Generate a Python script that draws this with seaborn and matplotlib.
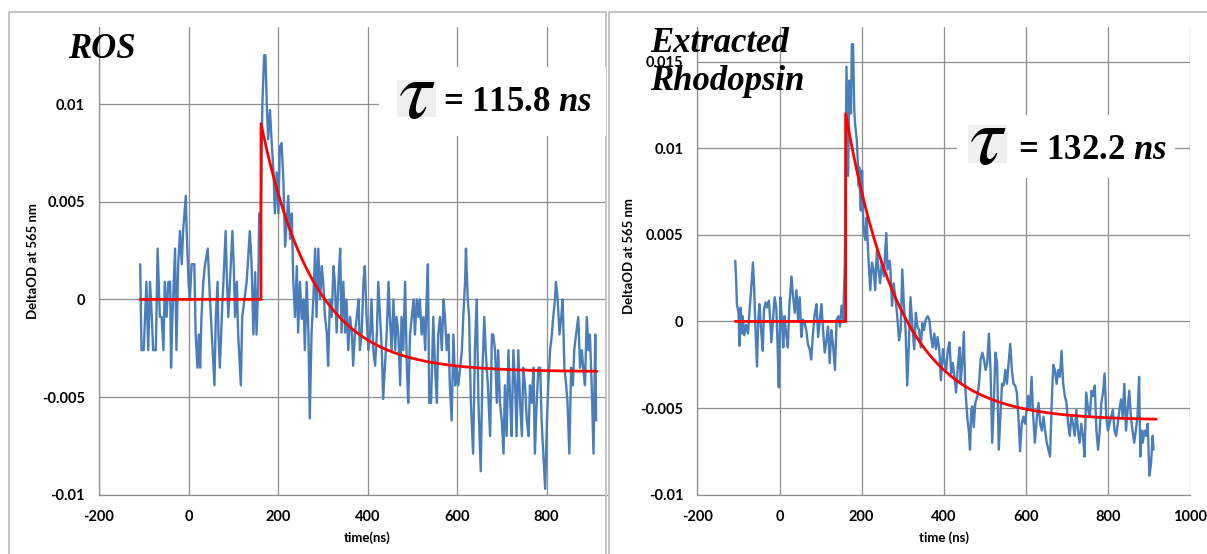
import numpy as np
import pandas as pd
import matplotlib
matplotlib.use("Agg")
import matplotlib.pyplot as plt
from matplotlib.lines import Line2D
from matplotlib.patches import Rectangle
import seaborn as sns

# ---------------- ROS transient (time in ns, DeltaOD at 565 nm) ----------------
ros_time = [
    -108, -105, -100, -94, -90, -86, -82, -79, -73, -69, -64, -60, -56, -53, -49, -45,
    -41, -39, -36, -30, -27, -23, -19, -15, -12, -6, -4, 0, 3, 7, 13, 16, 20, 23, 26,
    29, 33, 37, 43, 48, 52, 58, 61, 65, 67, 70, 76, 78, 83, 86, 89, 98, 101, 104, 108,
    111, 117, 120, 125, 130, 137, 141, 145, 149, 152, 156, 158, 161,
    165, 169, 172, 175, 178, 182, 186, 190, 193, 197, 201, 204, 208, 212, 216, 219, 223,
    227, 231, 234, 238, 242, 245, 249, 253, 257, 260, 264, 268, 271, 275, 279, 283, 286,
    290, 294, 298, 301, 305, 309, 312, 316, 320, 324, 327, 331, 335, 339, 342, 346, 350,
    353, 357, 361, 365, 368, 372, 376, 380, 383, 387, 391, 394, 398, 402, 406, 409, 413,
    417, 421, 424, 428, 432, 435, 439, 443, 447, 450, 454, 458, 462, 465, 469, 473, 476,
    480, 484, 488, 491, 495, 499, 503, 506, 510, 514, 517, 521, 525, 529, 532, 535, 538,
    542, 547, 551, 555, 558, 562, 566, 570, 573, 577, 581, 584, 588, 592, 596, 599, 603,
    607, 611, 614, 618, 620, 624, 627, 631, 636, 640, 644, 648, 653, 657, 661, 664, 669,
    674, 678, 681, 685, 689, 692, 696, 700, 704, 707, 711, 715, 719, 722, 726, 730, 733,
    737, 741, 745, 748, 752, 756, 760, 763, 767, 771, 774, 778, 782, 786, 789, 793, 797,
    801, 804, 808, 812, 815, 819, 821, 825, 829, 833, 836, 840, 844, 847, 851, 855, 859,
    862, 866, 871, 875, 879, 882, 886, 890, 894, 897, 901, 905, 909, 911,
]
ros_od = [
    0.0018, -0.0026, -0.0026, 0.0009, -0.0026, 0.0009, -0.0009, -0.0026, -0.0026, 0.0026,
    -0.0009, -0.0009, -0.0026, 0.0009, -0.0009, 0.0009, 0.0009, -0.0035, -0.0009, 0.0026,
    -0.0026, 0.0018, 0.0035, 0.0018, 0.0035, 0.0053, 0.0035, 0.0009, 0.0, 0.0018, 0.0018,
    -0.0018, -0.0035, -0.0018, -0.0035, -0.0009, 0.0009, 0.0018, 0.0026, 0.0, -0.0018,
    -0.0044, -0.0009, 0.0009, -0.0018, -0.0035, 0.0, 0.0009, 0.0035, 0.0009, -0.0009,
    0.0035, 0.0018, -0.0009, 0.0009, -0.0018, -0.0044, -0.0009, 0.0, 0.0009, 0.0035,
    0.0018, -0.0018, 0.0014, -0.0018, 0.0009, 0.0044, 0.0035,
    0.0099, 0.0125, 0.0125, 0.0099, 0.0082, 0.0097, 0.0080, 0.0065, 0.0044, 0.0065,
    0.0044, 0.0078, 0.0080, 0.0061, 0.0027, 0.0038, 0.0053, 0.0031, 0.0044, 0.0010,
    -0.0009, 0.0017, -0.0017, 0.0009, -0.0010, 0.0, -0.0026, 0.0009, -0.0017, -0.0061,
    -0.0017, 0.0, 0.0026, -0.0009, 0.0026, 0.0, 0.0017, 0.0009, -0.0009, -0.0017,
    -0.0034, 0.0, -0.0009, 0.0017, 0.0009, -0.0017, 0.0009, 0.0026, -0.0017, 0.0009,
    -0.0017, 0.0, -0.0026, -0.0009, -0.0017, -0.0034, -0.0017, -0.0009, 0.0, -0.0026,
    -0.0017, 0.0009, 0.0017, -0.0009, -0.0026, -0.0017, 0.0, -0.0026, -0.0034, -0.0017,
    0.0009, -0.0009, -0.0026, -0.0051, -0.0034, -0.0017, 0.0009, -0.0009, -0.0026, 0.0,
    -0.0026, -0.0009, -0.0018, -0.0044, -0.0009, -0.0026, 0.0009, -0.0035, -0.0053,
    -0.0018, -0.0009, 0.0, -0.0018, 0.0, -0.0009, 0.0, -0.0018, -0.0009, -0.0026, 0.0,
    0.0018, -0.0053, -0.0053, -0.0009, -0.0035, -0.0053, -0.0018, -0.0009, -0.0026, 0.0,
    -0.0009, -0.0026, -0.0018, -0.0044, -0.0062, -0.0018, -0.0044, -0.0035, -0.0044,
    -0.0035, -0.0026, -0.0009, 0.0009, 0.0026, 0.0, -0.0009, -0.0053, -0.0079, -0.0026,
    0.0, -0.0053, -0.0088, -0.0035, -0.0009, -0.0026, -0.0044, -0.0070, -0.0018, -0.0018,
    -0.0026, -0.0053, -0.0026, -0.0053, -0.0062, -0.0079, -0.0044, -0.0070, -0.0026,
    -0.0053, -0.0070, -0.0026, -0.0044, -0.0070, -0.0026, -0.0053, -0.0070, -0.0035,
    -0.0044, -0.0062, -0.0070, -0.0044, -0.0053, -0.0035, -0.0079, -0.0053, -0.0035,
    -0.0035, -0.0062, -0.0079, -0.0097, -0.0062, -0.0044, -0.0026, -0.0018, -0.0009, 0.0,
    0.0009, 0.0, -0.0018, -0.0009, 0.0, -0.0035, -0.0044, -0.0053, -0.0079, -0.0035,
    -0.0044, -0.0026, -0.0018, -0.0009, -0.0035, -0.0026, -0.0035, -0.0044, -0.0009,
    -0.0026, -0.0018, -0.0044, -0.0079, -0.0018, -0.0062,
]

# ---------------- Extracted rhodopsin transient ----------------
rho_time = [
    -108, -106, -104, -100, -98, -95, -92, -90, -86, -82, -77, -73, -69, -65, -62, -59,
    -55, -52, -49, -45, -41, -38, -34, -31, -26, -23, -20, -16, -12, -8, -5, -2, 2, 6,
    9, 12, 16, 20, 24, 29, 33, 37, 41, 45, 49, 53, 57, 61, 65, 69, 73, 77, 82, 86, 90,
    94, 98, 102, 106, 110, 114, 118, 122, 126, 130, 135, 139, 143, 147, 151, 155, 159,
    163, 167, 170, 174, 176, 179, 182, 184, 188, 190, 193, 194, 197, 198, 201, 204, 207,
    209, 212, 217, 221, 225, 229, 233, 237, 241, 245, 249, 254, 258, 260, 263, 268, 270,
    274, 278, 282, 286, 291, 295, 299, 303, 307, 311, 315, 319, 323, 328, 332, 336, 340,
    344, 348, 352, 356, 361, 365, 369, 373, 377, 381, 385, 389, 393, 398, 402, 406, 410,
    414, 418, 422, 426, 430, 435, 439, 441, 445, 449, 452, 455, 458, 461, 464, 467, 470,
    473, 477, 482, 486, 490, 494, 498, 502, 506, 510, 514, 518, 522, 526, 530, 534, 538,
    542, 546, 550, 554, 558, 562, 566, 570, 574, 578, 582, 586, 590, 594, 598, 602, 606,
    610, 614, 618, 622, 627, 631, 635, 639, 643, 647, 651, 655, 659, 663, 667, 671, 675,
    679, 683, 687, 691, 695, 699, 703, 707, 711, 715, 719, 723, 727, 731, 735, 739, 743,
    747, 752, 756, 760, 764, 768, 772, 776, 780, 784, 788, 792, 796, 800, 804, 808, 812,
    816, 820, 824, 828, 832, 836, 840, 844, 848, 852, 856, 860, 864, 868, 872, 876, 879,
    882, 885, 889, 893, 897, 901, 905, 909, 911,
]
rho_od = [
    0.0035, 0.0025, 0.0010, 0.0005, -0.0014, 0.0008, -0.0007, 0.0003, -0.0008, -0.0002,
    -0.0007, 0.0007, 0.0019, 0.0034, 0.0020, -0.0003, -0.0026, 0.0001, 0.0010, -0.0005,
    -0.0017, 0.0007, 0.0011, 0.0008, 0.0012, 0.0001, -0.0012, 0.0001, 0.0014, 0.0008,
    -0.0013, -0.0038, 0.0014, -0.0001, -0.0015, 0.0003, -0.0007, -0.0015, 0.0010, 0.0026,
    0.0014, 0.0005, 0.0018, 0.0001, 0.0014, -0.0009, 0.0001, -0.0001, -0.0005, -0.0013,
    -0.0016, -0.0022, -0.0005, 0.0005, 0.0010, -0.0009, 0.0001, 0.0010, -0.0005, -0.0018,
    -0.0011, -0.0003, -0.0024, -0.0005, -0.0013, -0.0028, 0.0001, 0.0003, -0.0003, 0.0009,
    0.0001, 0.0034,
    0.0147, 0.0084, 0.0139, 0.0120, 0.0160, 0.0160, 0.0122, 0.0114, 0.0105, 0.0095,
    0.0078, 0.0089, 0.0068, 0.0064, 0.0087, 0.0057, 0.0049, 0.0047, 0.0060, 0.0034,
    0.0018, 0.0034, 0.0030, 0.0018, 0.0041, 0.0030, 0.0022, 0.0034, 0.0026, 0.0043,
    0.0051, 0.0030, 0.0035, 0.0030, 0.0009, 0.0022, 0.0014, 0.0005, -0.0011, -0.0005,
    0.0030, 0.0009, -0.0005, -0.0037, -0.0013, 0.0014, -0.0001, -0.0016, 0.0005, -0.0003,
    -0.0005, -0.0015, -0.0001, -0.0005, 0.0001, 0.0003, 0.0001, -0.0009, -0.0015, -0.0007,
    -0.0016, -0.0009, -0.0016, -0.0034, -0.0016, -0.0024, -0.0028, -0.0016, -0.0012,
    -0.0030, -0.0024, -0.0032, -0.0041, -0.0024, -0.0015, -0.0036, -0.0024, -0.0006,
    -0.0036, -0.0047, -0.0057, -0.0063, -0.0074, -0.0051, -0.0049, -0.0061, -0.0047,
    -0.0043, -0.0036, -0.0022, -0.0018, -0.0022, -0.0028, -0.0024, -0.0007, -0.0028,
    -0.0070, -0.0047, -0.0018, -0.0024, -0.0074, -0.0055, -0.0036, -0.0037, -0.0028,
    -0.0036, -0.0024, -0.0013, -0.0028, -0.0036, -0.0037, -0.0041, -0.0055, -0.0075,
    -0.0059, -0.0055, -0.0059, -0.0051, -0.0043, -0.0051, -0.0032, -0.0055, -0.0070,
    -0.0055, -0.0047, -0.0059, -0.0063, -0.0055, -0.0063, -0.0070, -0.0074, -0.0078,
    -0.0047, -0.0025, -0.0028, -0.0036, -0.0028, -0.0032, -0.0017, -0.0036, -0.0043,
    -0.0047, -0.0059, -0.0066, -0.0055, -0.0059, -0.0066, -0.0051, -0.0063, -0.0070,
    -0.0059, -0.0066, -0.0078, -0.0041, -0.0051, -0.0055, -0.0040, -0.0043, -0.0037,
    -0.0063, -0.0074, -0.0063, -0.0047, -0.0041, -0.0030, -0.0055, -0.0063, -0.0059,
    -0.0055, -0.0051, -0.0063, -0.0066, -0.0059, -0.0051, -0.0045, -0.0055, -0.0036,
    -0.0063, -0.0051, -0.0040, -0.0055, -0.0063, -0.0070, -0.0063, -0.0055, -0.0032,
    -0.0078, -0.0063, -0.0070, -0.0063, -0.0066, -0.0059, -0.0089, -0.0082, -0.0066,
    -0.0074,
]

# ---------------- single-exponential fits ----------------
ros_tau = 115.8          # ns
ros_onset = 162          # ns
ros_amp = 0.0127
ros_offset = -0.0037

rho_tau = 132.2          # ns
rho_onset = 161          # ns
rho_amp = 0.0177
rho_offset = -0.0057

fit_start = -108
ros_fit_end = 913
rho_fit_end = 918

x_ticks_left = [-200, 0, 200, 400, 600, 800]
x_ticks_right = [-200, 0, 200, 400, 600, 800, 1000]
y_ticks_left = [-0.01, -0.005, 0, 0.005, 0.01]
y_ticks_right = [-0.01, -0.005, 0, 0.005, 0.01, 0.015]
y_labels_left = ["-0.01", "-0.005", "0", "0.005", "0.01"]
y_labels_right = ["-0.01", "-0.005", "0", "0.005", "0.01", "0.015"]


def fit_curve(onset, amp, offset, tau, end):
    decay_t = np.linspace(onset, end, 300)
    t = np.concatenate([[fit_start, onset], decay_t])
    y = np.concatenate([[0.0, 0.0], offset + amp * np.exp(-(decay_t - onset) / tau)])
    return pd.DataFrame({"t": t, "od": y})


W, H = 1207, 554
sns.set_theme(style="white")
plt.rcParams["font.family"] = ["Lato", "DejaVu Sans"]
plt.rcParams["text.color"] = "black"
plt.rcParams["mathtext.fontset"] = "custom"
plt.rcParams["mathtext.it"] = "Liberation Serif:italic:bold"
plt.rcParams["mathtext.bf"] = "Liberation Serif:italic:bold"

fig = plt.figure(figsize=(W / 100, H / 100), dpi=100)
fig.patch.set_facecolor("white")

GRID = "#8e8e8e"
BLUE = "#4a7ebb"
RED = "#ff0000"
FRAME = "#c4c4c4"


def fx(x):
    return x / W


def fy(y):
    return 1 - y / H


def add_axes_px(x0, y0, x1, y1):
    return fig.add_axes([fx(x0), fy(y1), (x1 - x0) / W, (y1 - y0) / H])


# panel frames
for xs, ys in [([8.5, 8.5], [554, 12.4]), ([8.5, 606], [12.4, 12.4]),
               ([606, 606], [12.4, 554]),
               ([609, 609], [554, 12.4]), ([609, 1207], [12.4, 12.4])]:
    fig.add_artist(Line2D([fx(v) for v in xs], [fy(v) for v in ys],
                          color=FRAME, lw=1.4, transform=fig.transFigure))


def style_axes(ax, xlim, ylim, xticks, yticks, ylabels):
    ax.set_xlim(*xlim)
    ax.set_ylim(*ylim)
    ax.set_xticks(xticks)
    ax.set_xticklabels([str(v) for v in xticks])
    ax.set_yticks(yticks)
    ax.set_yticklabels(ylabels)
    ax.set_axisbelow(True)
    ax.grid(True, color=GRID, lw=0.9)
    for side in ["top", "right"]:
        ax.spines[side].set_visible(False)
    for side in ["left", "bottom"]:
        ax.spines[side].set_color(GRID)
        ax.spines[side].set_linewidth(0.9)
    ax.tick_params(axis="both", length=0, labelsize=10.5, colors="black")
    ax.tick_params(axis="y", pad=10)
    ax.tick_params(axis="x", pad=11)
    for lab in ax.get_xticklabels() + ax.get_yticklabels():
        lab.set_fontweight("bold")
    ax.set_xlabel("")
    ax.set_ylabel("")
    ax.set_facecolor("none")


# ---------------- left panel: ROS ----------------
ax1 = add_axes_px(99, 26.5, 607, 494.7)
ros_df = pd.DataFrame({"t": ros_time, "od": ros_od})
sns.lineplot(data=ros_df, x="t", y="od", ax=ax1, color=BLUE, lw=1.7,
             estimator=None, sort=False, zorder=3)
sns.lineplot(data=fit_curve(ros_onset, ros_amp, ros_offset, ros_tau, ros_fit_end),
             x="t", y="od", ax=ax1, color=RED, lw=2.0, estimator=None, sort=False, zorder=4)
style_axes(ax1, (-200, (607 - 99) / 0.4475 - 200), (-0.01, 0.01397),
           x_ticks_left, y_ticks_left, y_labels_left)

# ---------------- right panel: extracted rhodopsin ----------------
ax2 = add_axes_px(697.5, 26.5, 1190, 494.7)
rho_df = pd.DataFrame({"t": rho_time, "od": rho_od})
sns.lineplot(data=rho_df, x="t", y="od", ax=ax2, color=BLUE, lw=1.7,
             estimator=None, sort=False, zorder=3)
sns.lineplot(data=fit_curve(rho_onset, rho_amp, rho_offset, rho_tau, rho_fit_end),
             x="t", y="od", ax=ax2, color=RED, lw=2.0, estimator=None, sort=False, zorder=4)
style_axes(ax2, (-200, 1000), (-0.01, 0.01702),
           x_ticks_right, y_ticks_right, y_labels_right)

# axis titles
for cx, cy in [(33, 261), (629, 256)]:
    fig.text(fx(cx), fy(cy), "DeltaOD at 565 nm", rotation=90, ha="center", va="center",
             fontsize=9.5, fontweight="bold")
fig.text(fx(367), fy(538), "time(ns)", ha="center", va="center", fontsize=9.5,
         fontweight="bold")
fig.text(fx(944), fy(538), "time (ns)", ha="center", va="center", fontsize=9.5,
         fontweight="bold")

# panel names
SERIF = ["Liberation Serif", "DejaVu Serif"]
fig.text(fx(68), fy(58), "ROS", family=SERIF, fontsize=25, fontweight="bold",
         fontstyle="italic", va="baseline", ha="left")
fig.text(fx(650), fy(52), "Extracted", family=SERIF, fontsize=25, fontweight="bold",
         fontstyle="italic", va="baseline", ha="left", zorder=10)
fig.text(fx(650), fy(90), "Rhodopsin", family=SERIF, fontsize=25, fontweight="bold",
         fontstyle="italic", va="baseline", ha="left", zorder=10)


# lifetime labels
def tau_label(box, tau_box, eq_x, base_y, value):
    bx0, by0, bx1, by1 = box
    fig.add_artist(Rectangle((fx(bx0), fy(by1)), (bx1 - bx0) / W, (by1 - by0) / H,
                             transform=fig.transFigure, facecolor="white",
                             edgecolor="none", zorder=2))
    tx0, ty0, tx1, ty1 = tau_box
    fig.add_artist(Rectangle((fx(tx0), fy(ty1)), (tx1 - tx0) / W, (ty1 - ty0) / H,
                             transform=fig.transFigure, facecolor="#efefef",
                             edgecolor="none", zorder=2.5))
    fig.text(fx((tx0 + tx1) / 2), fy((ty0 + ty1) / 2 - 3), r"$\tau$",
             math_fontfamily="stix", fontsize=60, ha="center", va="center",
             color="black", zorder=3)
    fig.text(fx(eq_x), fy(base_y), f"= {value} $\\mathbf{{\\it{{ns}}}}$", family=SERIF,
             fontsize=25, fontweight="bold", ha="left", va="baseline", color="black",
             zorder=3)


tau_label((379, 67, 606, 136), (397, 79.5, 436, 116.6), 443, 111, ros_tau)
tau_label((957, 115, 1175, 178), (968, 125.4, 1007, 162.5), 1018, 159, rho_tau)

fig.savefig("out.png", dpi=100, facecolor="white")
